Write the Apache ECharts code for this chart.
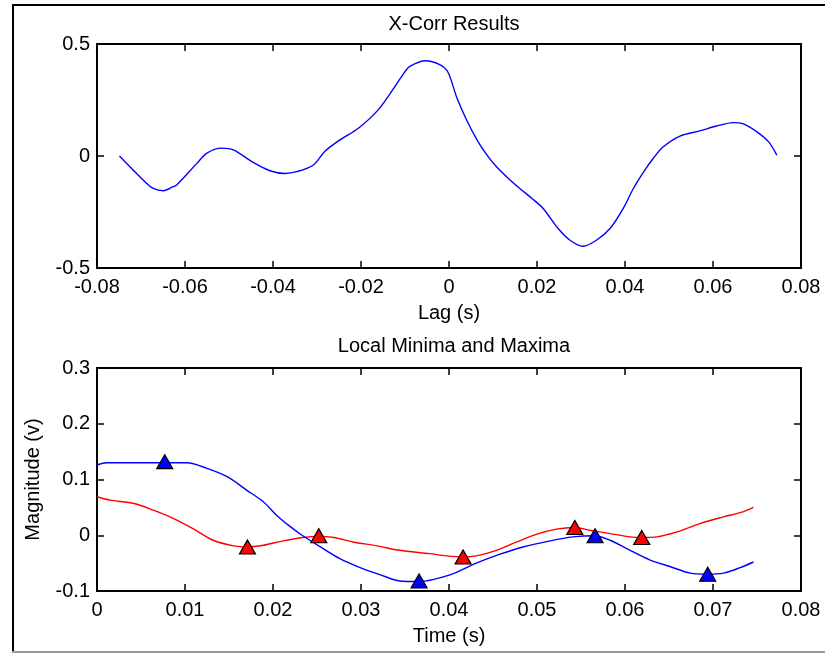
<!DOCTYPE html>
<html>
<head>
<meta charset="utf-8">
<script src="https://cdn.jsdelivr.net/npm/echarts@6/dist/echarts.min.js"></script>
<style>html,body{margin:0;padding:0;background:#fff}#c{width:825px;height:655px}</style>
</head>
<body>
<div id="c"></div>
<script>
// ---- Data ----
const xcorrLag = [-0.0749,-0.0691,-0.0672,-0.0649,-0.0627,-0.0619,-0.0573,-0.0551,-0.0517,-0.0490,-0.0444,-0.0407,-0.0373,-0.0346,-0.0308,-0.0282,-0.0248,-0.0206,-0.0161,-0.0123,-0.0100,-0.0089,-0.0055,-0.0020,-0.0002,0.0017,0.0040,0.0066,0.0089,0.0108,0.0135,0.0161,0.0188,0.0214,0.0248,0.0275,0.0305,0.0335,0.0366,0.0396,0.0419,0.0445,0.0464,0.0487,0.0525,0.0570,0.0608,0.0646,0.0669,0.0699,0.0726,0.0745];
const xcorrVal = [0.000,-0.115,-0.145,-0.155,-0.137,-0.130,-0.033,0.012,0.035,0.027,-0.030,-0.066,-0.078,-0.070,-0.040,0.021,0.072,0.124,0.206,0.310,0.377,0.400,0.425,0.407,0.373,0.265,0.161,0.064,-0.003,-0.048,-0.100,-0.145,-0.189,-0.234,-0.324,-0.376,-0.403,-0.376,-0.324,-0.234,-0.145,-0.063,-0.011,0.041,0.089,0.112,0.134,0.149,0.143,0.109,0.064,0.004];

const blueTime = [0.0000,0.0011,0.0077,0.0102,0.0125,0.0148,0.0170,0.0189,0.0204,0.0220,0.0233,0.0254,0.0276,0.0299,0.0322,0.0344,0.0366,0.0401,0.0431,0.0458,0.0484,0.0515,0.0541,0.0566,0.0583,0.0602,0.0628,0.0651,0.0674,0.0694,0.0712,0.0731,0.0746];
const blueVal  = [0.126,0.130,0.130,0.130,0.120,0.105,0.081,0.060,0.036,0.015,0.000,-0.021,-0.042,-0.058,-0.071,-0.082,-0.083,-0.071,-0.050,-0.034,-0.021,-0.010,-0.003,-0.001,-0.009,-0.024,-0.044,-0.056,-0.068,-0.070,-0.068,-0.058,-0.048];

const redTime = [0.0000,0.0015,0.0042,0.0064,0.0087,0.0109,0.0132,0.0155,0.0171,0.0189,0.0212,0.0234,0.0252,0.0269,0.0291,0.0318,0.0344,0.0378,0.0397,0.0416,0.0431,0.0454,0.0477,0.0500,0.0522,0.0543,0.0560,0.0583,0.0606,0.0619,0.0636,0.0659,0.0685,0.0712,0.0734,0.0746];
const redVal  = [0.069,0.063,0.057,0.045,0.030,0.012,-0.009,-0.019,-0.021,-0.018,-0.010,-0.004,-0.002,-0.004,-0.012,-0.019,-0.027,-0.033,-0.037,-0.039,-0.037,-0.027,-0.012,0.002,0.011,0.014,0.009,0.003,-0.003,-0.004,-0.003,0.006,0.021,0.033,0.042,0.050];

const blueExtTime = [0.0077,0.0366,0.0566,0.0694];
const blueExtVal  = [0.132,-0.082,-0.001,-0.070];
const redExtTime  = [0.0171,0.0252,0.0416,0.0543,0.0619];
const redExtVal   = [-0.021,-0.001,-0.039,0.014,-0.004];

const topTitle = 'X-Corr Results', topXName = 'Lag (s)';
const botTitle = 'Local Minima and Maxima', botXName = 'Time (s)', botYName = 'Magnitude (v)';

// ---- Styling ----
const FONT = '"Liberation Sans", Arial, sans-serif';
const FS = 20;
const zip = (a, b) => a.map((v, i) => [v, b[i]]);

function xAx(grid, min, max, interval, pos, showLabel, name) {
  return {
    type: 'value', gridIndex: grid, min, max, interval, position: pos,
    name: name || '', nameLocation: 'middle', nameGap: 35,
    nameTextStyle: { color: '#000', fontSize: FS, fontFamily: FONT },
    axisLine: { show: true, onZero: false, lineStyle: { color: '#000', width: 2 } },
    axisTick: { show: true, inside: true, length: 7, lineStyle: { color: '#000', width: 1.5 } },
    axisLabel: { show: showLabel, color: '#000', fontSize: FS, fontFamily: FONT, margin: 9,
      showMinLabel: true, showMaxLabel: true, formatter: v => String(+v.toFixed(4)) },
    splitLine: { show: false }
  };
}
function yAx(grid, min, max, interval, pos, showLabel, name) {
  return {
    type: 'value', gridIndex: grid, min, max, interval, position: pos,
    name: name || '', nameLocation: 'middle', nameGap: 54,
    nameTextStyle: { color: '#000', fontSize: FS, fontFamily: FONT },
    axisLine: { show: true, onZero: false, lineStyle: { color: '#000', width: 2 } },
    axisTick: { show: true, inside: true, length: 7, lineStyle: { color: '#000', width: 1.5 } },
    axisLabel: { show: showLabel, color: '#000', fontSize: FS, fontFamily: FONT, margin: 7,
      showMinLabel: true, showMaxLabel: true, formatter: v => String(+v.toFixed(4)) },
    splitLine: { show: false }
  };
}

const chart = echarts.init(document.getElementById('c'), null, { renderer: 'canvas' });
chart.setOption({
  animation: false,
  backgroundColor: '#fff',
  title: [
    { text: topTitle, left: 449, top: 9, textAlign: 'center',
      textStyle: { color: '#000', fontSize: FS, fontWeight: 'normal', fontFamily: FONT } },
    { text: botTitle, left: 449, top: 331, textAlign: 'center',
      textStyle: { color: '#000', fontSize: FS, fontWeight: 'normal', fontFamily: FONT } }
  ],
  grid: [
    { left: 97, right: 24, top: 44, height: 224 },
    { left: 97, right: 24, top: 368, height: 223 }
  ],
  xAxis: [
    xAx(0, -0.08, 0.08, 0.02, 'bottom', true, topXName),
    xAx(0, -0.08, 0.08, 0.02, 'top', false),
    xAx(1, 0, 0.08, 0.01, 'bottom', true, botXName),
    xAx(1, 0, 0.08, 0.01, 'top', false)
  ],
  yAxis: [
    yAx(0, -0.5, 0.5, 0.5, 'left', true),
    yAx(0, -0.5, 0.5, 0.5, 'right', false),
    yAx(1, -0.1, 0.3, 0.1, 'left', true, botYName),
    yAx(1, -0.1, 0.3, 0.1, 'right', false)
  ],
  series: [
    { type: 'line', xAxisIndex: 0, yAxisIndex: 0, data: zip(xcorrLag, xcorrVal), showSymbol: false,
      smooth: 0.3, lineStyle: { color: '#0000ff', width: 1.4 } },
    { type: 'line', xAxisIndex: 2, yAxisIndex: 2, data: zip(redTime, redVal), showSymbol: false,
      smooth: 0.3, lineStyle: { color: '#ff0000', width: 1.4 } },
    { type: 'line', xAxisIndex: 2, yAxisIndex: 2, data: zip(blueTime, blueVal), showSymbol: false,
      smooth: 0.3, lineStyle: { color: '#0000ff', width: 1.4 } },
    { type: 'scatter', xAxisIndex: 2, yAxisIndex: 2, data: zip(redExtTime, redExtVal), symbol: 'triangle',
      symbolSize: [16, 14], itemStyle: { color: '#ff0000', opacity: 1, borderColor: '#000', borderWidth: 1.2 }, z: 5 },
    { type: 'scatter', xAxisIndex: 2, yAxisIndex: 2, data: zip(blueExtTime, blueExtVal), symbol: 'triangle',
      symbolSize: [16, 14], itemStyle: { color: '#0000ff', opacity: 1, borderColor: '#000', borderWidth: 1.2 }, z: 5 }
  ],
  graphic: [
    { type: 'line', shape: { x1: 13, y1: 5, x2: 825, y2: 5 }, style: { stroke: '#000', lineWidth: 2 } },
    { type: 'line', shape: { x1: 13, y1: 4, x2: 13, y2: 652 }, style: { stroke: '#000', lineWidth: 2 } },
    { type: 'line', shape: { x1: 12, y1: 652, x2: 825, y2: 652 }, style: { stroke: '#999', lineWidth: 2 } }
  ]
});
</script>
</body>
</html>
